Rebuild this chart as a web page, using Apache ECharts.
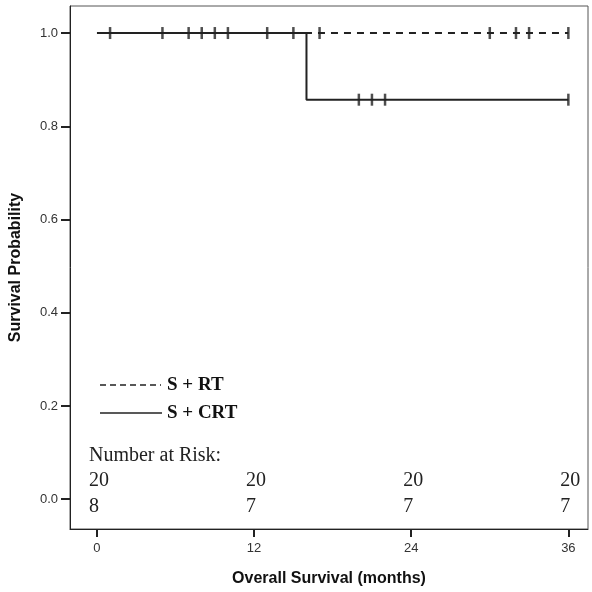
<!DOCTYPE html>
<html>
<head>
<meta charset="utf-8">
<script src="https://cdn.jsdelivr.net/npm/echarts@6/dist/echarts.min.js"></script>
<style>html,body{margin:0;padding:0;background:#fff;}#c{width:592px;height:592px;}</style>
</head>
<body>
<div id="c"></div>
<script>
// ---- data ----
var xTicks = [0, 12, 24, 36];
var yTicks = [0, 0.2, 0.4, 0.6, 0.8, 1.0];
var rtCurve = [[0, 1.0], [36, 1.0]];                 // S + RT (dashed)
var crtCurve = [[0, 1.0], [16, 0.857], [36, 0.857]]; // S + CRT (solid), step at 16
var crtCensorTimes = [1, 5, 7, 8, 9, 10, 13, 15, 20, 21, 22, 36];
var crtCensorSurv  = [1, 1, 1, 1, 1, 1, 1, 1, 0.857, 0.857, 0.857, 0.857];
var rtCensorTimes = [17, 30, 32, 33, 36];
var rtCensorSurv  = [1, 1, 1, 1, 1];
var riskTitle = 'Number at Risk:';
var riskRT  = [20, 20, 20, 20];
var riskCRT = [8, 7, 7, 7];
var legendNames = ['S + RT', 'S + CRT'];

var chart = echarts.init(document.getElementById('c'), null, {renderer: 'canvas'});
var ink = '#222';
function zip(a, b) { return a.map(function (v, i) { return [v, b[i]]; }); }

var option = {
  animation: false,
  backgroundColor: '#fff',
  grid: {left: 69, right: 4, top: 6, bottom: 63, show: true, borderColor: '#555', borderWidth: 1},
  xAxis: {
    type: 'value', min: -2.06, max: 37.5,
    name: 'Overall Survival (months)', nameLocation: 'middle', nameGap: 42,
    nameTextStyle: {fontFamily: 'Liberation Sans', fontWeight: 'bold', fontSize: 16, color: '#111'},
    axisLine: {show: true, onZero: false, lineStyle: {color: ink, width: 1}},
    axisTick: {show: true, length: 8, customValues: xTicks, lineStyle: {color: ink, width: 2}},
    axisLabel: {customValues: xTicks, fontFamily: 'Liberation Sans', fontSize: 13, color: '#333', margin: 13},
    splitLine: {show: false}
  },
  yAxis: {
    type: 'value', min: -0.064, max: 1.058,
    name: 'Survival Probability', nameLocation: 'middle', nameGap: 46,
    nameTextStyle: {fontFamily: 'Liberation Sans', fontWeight: 'bold', fontSize: 16, color: '#111'},
    axisLine: {show: true, onZero: false, lineStyle: {color: ink, width: 1}},
    axisTick: {show: true, length: 9, customValues: yTicks, lineStyle: {color: ink, width: 2}},
    axisLabel: {customValues: yTicks, fontFamily: 'Liberation Sans', fontSize: 13, color: '#333', margin: 12,
      formatter: function (v) { return v.toFixed(1); }},
    splitLine: {show: false}
  },
  series: [
    {type: 'line', name: legendNames[0], data: rtCurve, showSymbol: false, z: 2,
     lineStyle: {color: ink, width: 2, type: [7, 6]}},
    {type: 'line', name: legendNames[1], data: crtCurve, step: 'end', showSymbol: false, z: 3,
     lineStyle: {color: ink, width: 2}},
    {type: 'scatter', data: zip(crtCensorTimes, crtCensorSurv), symbol: 'rect', symbolSize: [2.5, 12], z: 4,
     itemStyle: {color: ink}},
    {type: 'scatter', data: zip(rtCensorTimes, rtCensorSurv), symbol: 'rect', symbolSize: [2.5, 12], z: 4,
     itemStyle: {color: ink}}
  ]
};
chart.setOption(option);

// legend + number at risk drawn with graphic text, positioned via the axes
function px(x, y) { return chart.convertToPixel({gridIndex: 0}, [x, y]); }
var g = [];
// legend
g.push({type: 'line', shape: {x1: 100, y1: 385, x2: 161, y2: 385}, style: {stroke: ink, lineWidth: 1.5, lineDash: [6, 4]}});
g.push({type: 'text', x: 167, y: 385, style: {text: legendNames[0], font: 'bold 19px "Liberation Serif"', fill: '#111', verticalAlign: 'middle'}});
g.push({type: 'line', shape: {x1: 100, y1: 413, x2: 162, y2: 413}, style: {stroke: ink, lineWidth: 1.5}});
g.push({type: 'text', x: 167, y: 413, style: {text: legendNames[1], font: 'bold 19px "Liberation Serif"', fill: '#111', verticalAlign: 'middle'}});
// number at risk
var p0 = px(xTicks[0], 0);
g.push({type: 'text', x: p0[0] - 8, y: 456, style: {text: riskTitle, font: '20px "Liberation Serif"', fill: '#222', verticalAlign: 'middle'}});
xTicks.forEach(function (t, i) {
  var p = px(t, 0);
  g.push({type: 'text', x: p[0] - 8, y: 481, style: {text: String(riskRT[i]), font: '20px "Liberation Serif"', fill: '#222', verticalAlign: 'middle'}});
  g.push({type: 'text', x: p[0] - 8, y: 507, style: {text: String(riskCRT[i]), font: '20px "Liberation Serif"', fill: '#222', verticalAlign: 'middle'}});
});
chart.setOption({graphic: g});
</script>
</body>
</html>
